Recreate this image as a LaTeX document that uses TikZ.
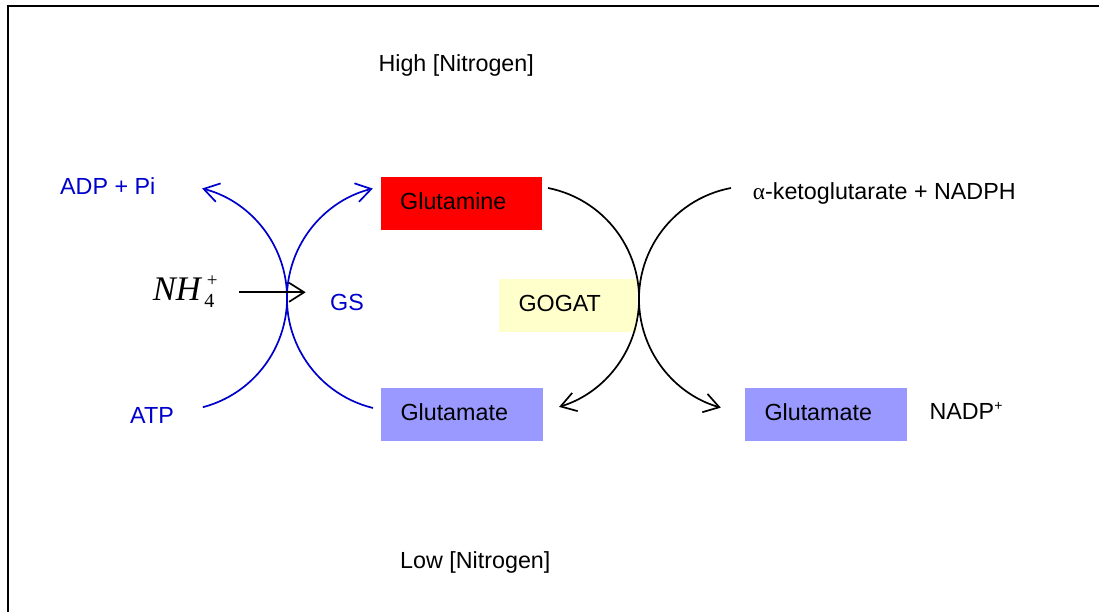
\documentclass[tikz,border=0pt]{standalone}
\usepackage{fontspec}
\setmainfont{Liberation Sans}
\newfontfamily\tnr{Liberation Serif}
\usetikzlibrary{arrows.meta}
\definecolor{gsblue}{RGB}{0,0,204}
\definecolor{glnred}{RGB}{255,0,0}
\definecolor{glulav}{RGB}{153,153,255}
\definecolor{gogatyel}{RGB}{255,255,204}
\begin{document}
\begin{tikzpicture}[x=1pt,y=1pt,
  lbl/.style={font=\fontsize{23.3}{27}\selectfont, inner sep=0pt, anchor=base west},
  boxnode/.style={font=\fontsize{23.3}{27}\selectfont, inner ysep=0pt, inner xsep=19.5pt,
     minimum height=52.5pt, text height=17pt, text depth=5pt, align=left},
  barb/.style={-{Straight Barb[length=15pt,width=19pt]}},
  bluearc/.style={barb, draw=gsblue, line width=1.7pt},
  blackarc/.style={barb, draw=black, line width=1.7pt}]
\useasboundingbox (0,0) rectangle (1099,612);
% frame
\draw[line width=2pt] (8.3,0) -- (8.3,606.3) -- (1099,606.3);
% labels
\node[lbl] (high) at (378.3,540.3) {High [Nitrogen]};
\node[lbl] (low) at (400,43) {Low [Nitrogen]};
\node[lbl, text=gsblue] (adp) at (60,417) {ADP + Pi};
\node[lbl, text=gsblue] (atp) at (130,188.7) {ATP};
\node[lbl, text=gsblue] (gs) at (330,301.3) {GS};
\node[lbl] (akg) at (752.7,412.7) {{\tnr α}-ketoglutarate + NADPH};
\node[lbl] (nadp) at (929.3,192.7) {NADP\raisebox{9pt}{\fontsize{14}{14}\selectfont +}};
\node[inner sep=0pt, anchor=base west] (nh4) at (152.7,311.3)
  {{\tnr\itshape\fontsize{34.5}{34}\selectfont NH}\hspace{3.5pt}\rlap{\raisebox{-7.3pt}{\tnr\fontsize{20}{20}\selectfont 4}}\hspace{2.5pt}\raisebox{14pt}{\tnr\fontsize{19}{19}\selectfont +}};
% boxes
\node[boxnode, fill=glnred, text width=122.3pt] (gln) at (461.35,408.7) {Glutamine};
\node[boxnode, fill=glulav, text width=123pt] (gluL) at (462,197.7) {Glutamate};
\node[boxnode, fill=glulav, text width=123pt] (gluR) at (826,197.7) {Glutamate};
\node[boxnode, fill=gogatyel, text width=99pt, minimum height=53pt] (gogat) at (568,306.5) {GOGAT};
% arc end points
\coordinate (atpEnd) at (202.9,204.8);
\coordinate (gluLEnd) at (373,204);
\coordinate (glnEnd) at (548,424);
\coordinate (akgEnd) at (731,424);
\coordinate (nh4tail) at (239.3,319.7);
\coordinate (nh4tip) at (305.7,319.7);
% GS arcs
\draw[bluearc] (atpEnd) arc[start angle=-75.2, end angle=75.6, radius=113];
\draw[bluearc] (gluLEnd) arc[start angle=256.2, end angle=103.9, radius=113];
% NH4 arrow
\draw[barb, line width=1.7pt] (nh4tail) -- (nh4tip);
% GOGAT arcs
\draw[blackarc] (glnEnd) arc[start angle=78.8, end angle=-73, radius=113];
\draw[blackarc] (akgEnd) arc[start angle=100.7, end angle=254, radius=113];
\end{tikzpicture}
\end{document}
